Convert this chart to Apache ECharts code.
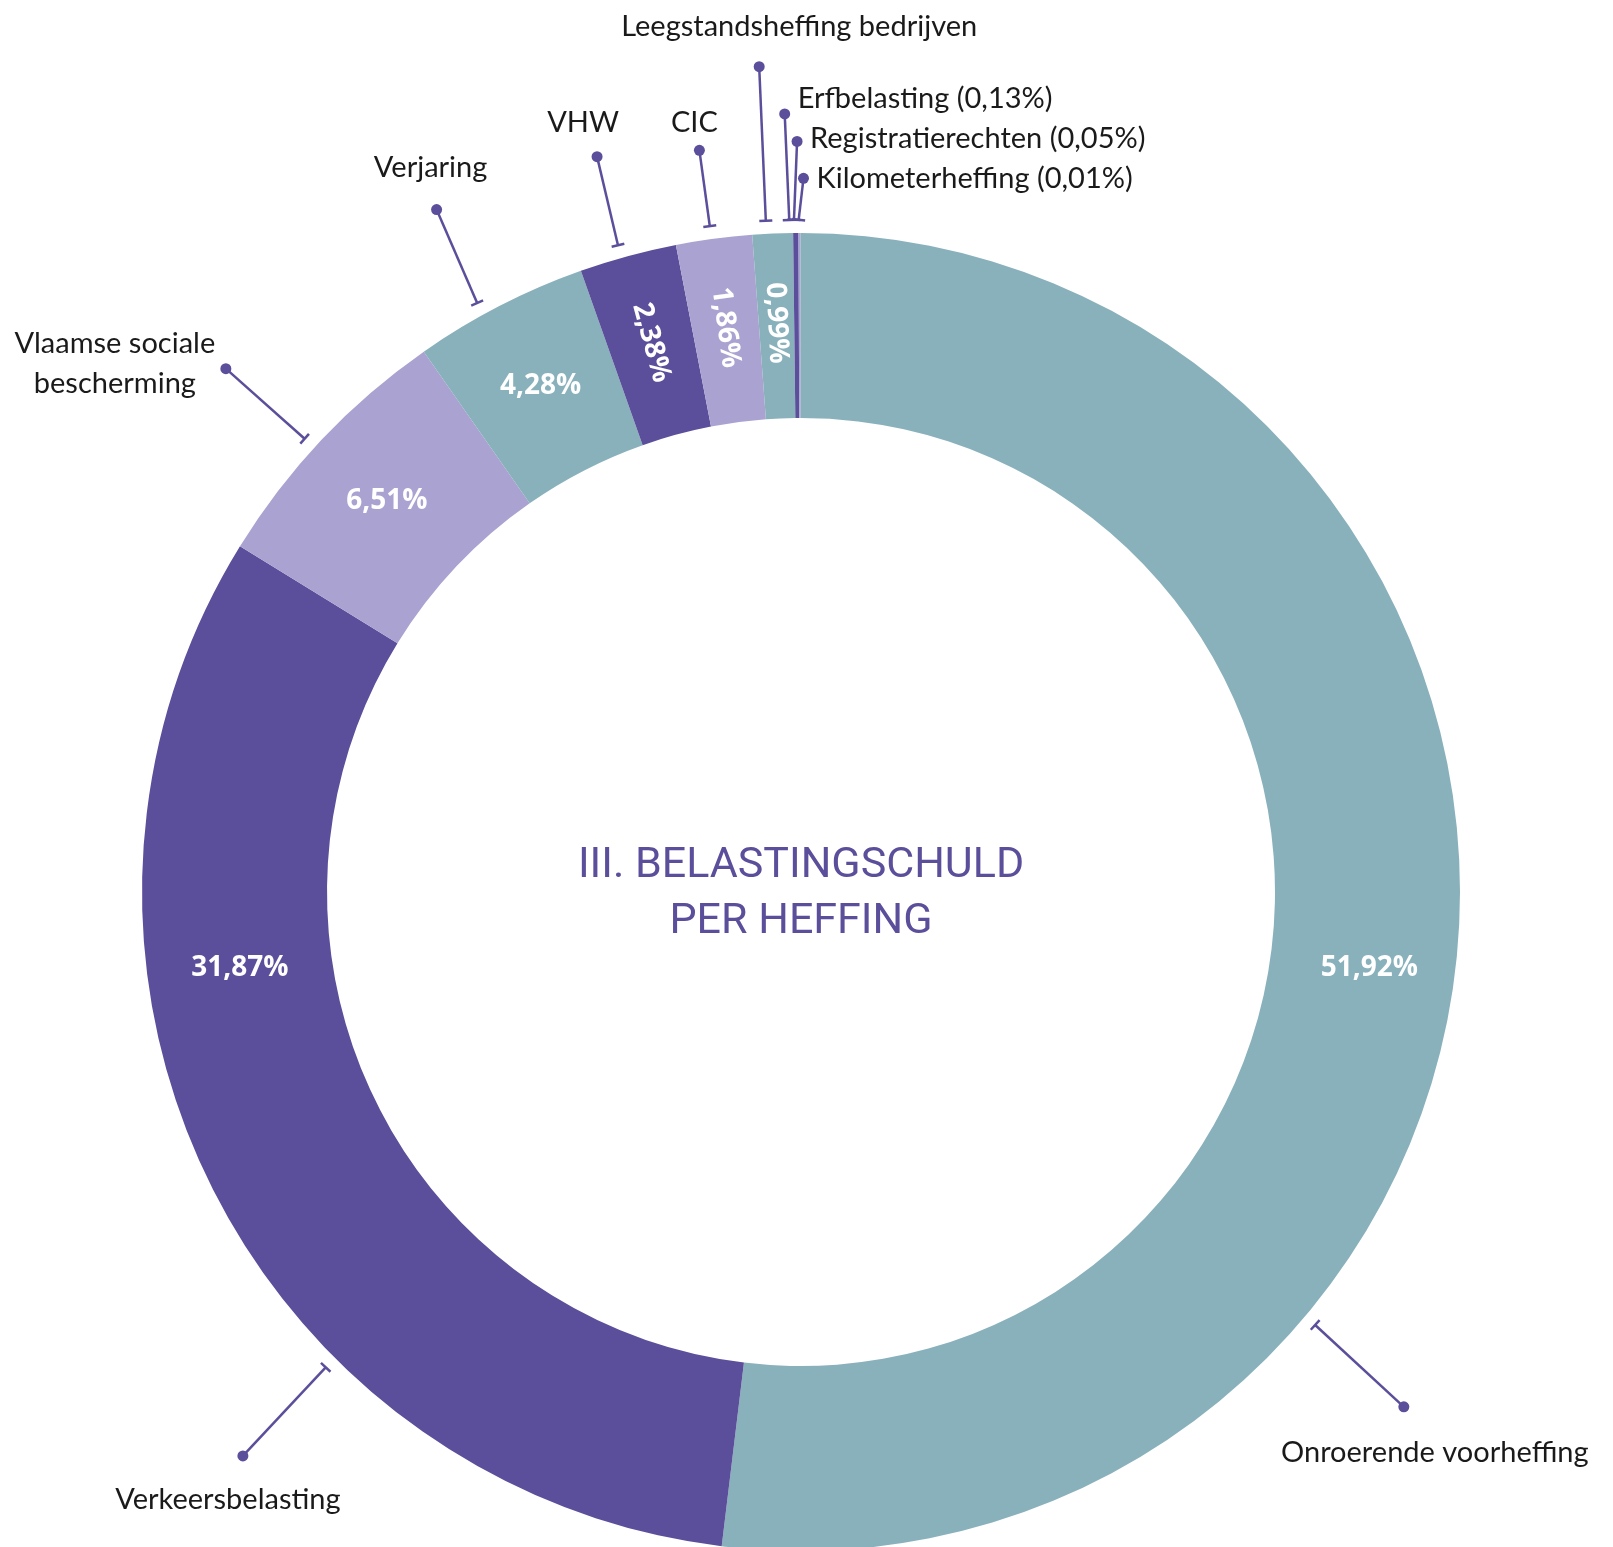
<!DOCTYPE html>
<html>
<head>
<meta charset="utf-8">
<title>Belastingschuld per heffing</title>
<script src="https://cdn.jsdelivr.net/npm/echarts@6/dist/echarts.min.js"></script>
<style>
  html, body { margin: 0; padding: 0; background: #fff; }
  #chart { width: 1613px; height: 1547px; }
</style>
</head>
<body>
<div id="chart"></div>
<script>
  // heffingen, in wijzerzin vanaf 12 uur
  var heffingen = ['Onroerende voorheffing', 'Verkeersbelasting', 'Vlaamse sociale\nbescherming', 'Verjaring', 'VHW', 'CIC',
    'Leegstandsheffing bedrijven', 'Erfbelasting (0,13%)', 'Registratierechten (0,05%)', 'Kilometerheffing (0,01%)'];
  var aandeel = [51.92, 31.87, 6.51, 4.28, 2.38, 1.86, 0.99, 0.13, 0.05, 0.01];
  var titel = 'III. BELASTINGSCHULD\nPER HEFFING';

  // opmaak
  var TEAL = '#89b1bc', PAARS = '#5b4e9b', LILA = '#aaa2d1';
  var kleuren = [TEAL, PAARS, LILA, TEAL, PAARS, LILA, TEAL, PAARS, LILA, TEAL];
  var CX = 801, CY = 892, R_IN = 474, R_OUT = 659;
  var toonPct = [true, true, true, true, true, true, true, false, false, false];
  var radiaal = [false, false, false, false, true, true, true, false, false, false];
  var pctVerschuif = [[0, 42], [-48, -171], [0, 0], [0, 0], [0, 0], [0, 0], [0, 0], [0, 0], [0, 0], [0, 0]];

  // verwijslijnen: hoek (graden, wijzerzin vanaf boven) en straal (x buitenstraal) van T-stuk en bolletje
  var lijnHoek = [[130.1, 130.5], [225, 224.7], [312.4, 312.3], [331.2, 331.9], [344.2, 344.5],
    [352.2, 352.2], [357.0, 357.1], [359.0, 358.8], [359.4, 359.7], [359.8, 360.2]];
  var lijnStraal = [[1.02, 1.203], [1.02, 1.204], [1.02, 1.18], [1.02, 1.174], [1.02, 1.158],
    [1.02, 1.136], [1.02, 1.254], [1.02, 1.181], [1.02, 1.139], [1.02, 1.083]];
  // tekst t.o.v. het bolletje
  var tekstPlek = [[31, 46, 'center'], [-15, 44, 'center'], [-111, -5, 'center'], [-6, -42, 'center'], [-14, -34, 'center'],
    [-5, -28, 'center'], [40, -40, 'center'], [13, -15, 'left'], [13, -3, 'left'], [13, 0, 'left']];

  var chart = echarts.init(document.getElementById('chart'));

  var pieData = heffingen.map(function (naam, i) {
    return {
      name: naam,
      value: aandeel[i],
      itemStyle: { color: kleuren[i] },
      label: { show: toonPct[i], rotate: radiaal[i] ? 'radial' : 0 }
    };
  });

  var lijnData = heffingen.map(function (naam, i) {
    return [lijnStraal[i][0], lijnHoek[i][0], lijnStraal[i][1], lijnHoek[i][1]];
  });

  function tekenLijn(params, api) {
    var i = params.dataIndex;
    var a = api.coord([api.value(0), api.value(1)]);
    var b = api.coord([api.value(2), api.value(3)]);
    var dx = b[0] - a[0], dy = b[1] - a[1];
    var len = Math.sqrt(dx * dx + dy * dy);
    var px = -dy / len * 6.5, py = dx / len * 6.5;
    var t = tekstPlek[i];
    return {
      type: 'group',
      children: [
        { type: 'line', shape: { x1: a[0], y1: a[1], x2: b[0], y2: b[1] }, style: { stroke: PAARS, lineWidth: 2.5 } },
        { type: 'line', shape: { x1: a[0] - px, y1: a[1] - py, x2: a[0] + px, y2: a[1] + py }, style: { stroke: PAARS, lineWidth: 2.5 } },
        { type: 'circle', shape: { cx: b[0], cy: b[1], r: 5.5 }, style: { fill: PAARS } },
        {
          type: 'text', x: b[0] + t[0], y: b[1] + t[1],
          style: {
            text: heffingen[i], align: t[2], verticalAlign: 'middle',
            fontFamily: 'Lato', fontSize: 29, lineHeight: 40, fill: '#1a1a1a'
          }
        }
      ]
    };
  }

  var option = {
    backgroundColor: '#ffffff',
    animation: false,
    polar: { center: [CX, CY], radius: [0, R_OUT] },
    angleAxis: { type: 'value', min: 0, max: 360, startAngle: 90, clockwise: true, show: false },
    radiusAxis: { type: 'value', min: 0, max: 1, show: false },
    graphic: [{
      type: 'text', x: CX, y: CY + 2,
      style: {
        text: titel, align: 'center', verticalAlign: 'middle',
        fontFamily: 'Roboto', fontSize: 43, lineHeight: 56, fill: PAARS
      }
    }],
    series: [{
      type: 'pie',
      center: [CX, CY],
      radius: [R_IN, R_OUT],
      startAngle: 90,
      clockwise: true,
      silent: true,
      avoidLabelOverlap: false,
      label: {
        position: 'inside',
        color: '#ffffff',
        fontFamily: 'Open Sans',
        fontWeight: 'bold',
        fontSize: 28,
        formatter: function (p) { return p.value.toFixed(2).replace('.', ',') + '%'; }
      },
      labelLine: { show: false },
      labelLayout: function (p) {
        var v = pctVerschuif[p.dataIndex];
        return { dx: v[0], dy: v[1] };
      },
      data: pieData
    }, {
      type: 'custom',
      coordinateSystem: 'polar',
      silent: true,
      encode: { radius: 0, angle: 1 },
      renderItem: tekenLijn,
      data: lijnData
    }]
  };
  chart.setOption(option);
</script>
</body>
</html>
